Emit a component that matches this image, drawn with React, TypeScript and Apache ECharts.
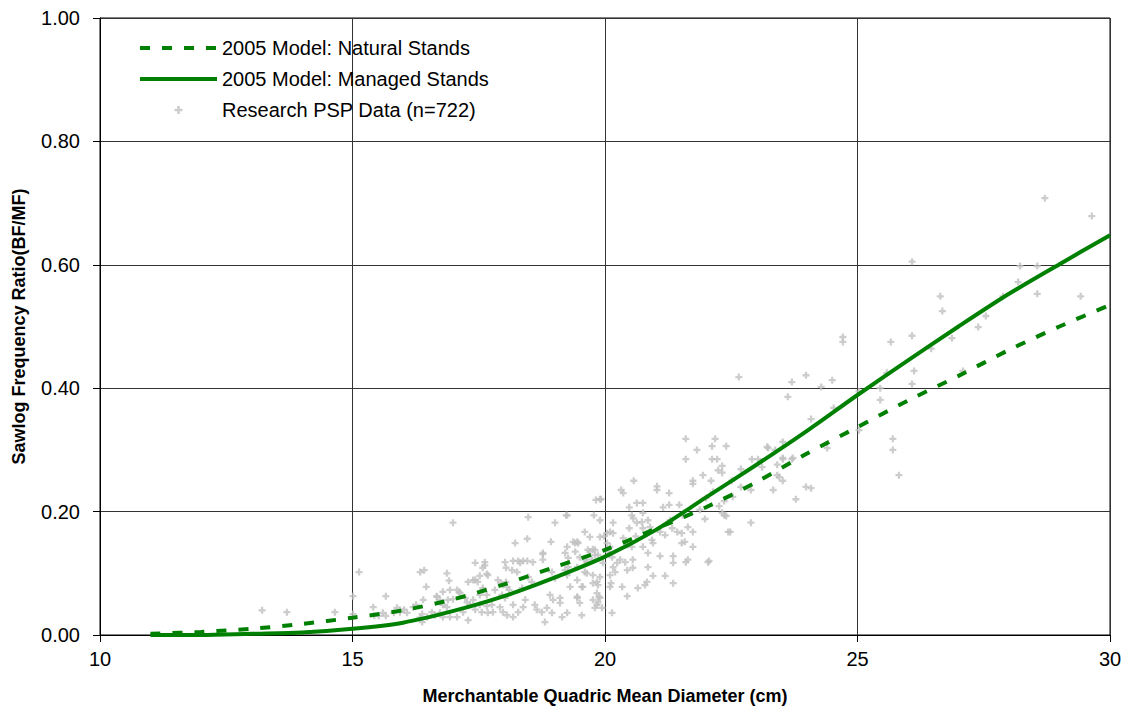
import React, { useEffect, useRef } from "react";
import * as echarts from "echarts";

const curveX = [11, 12, 13, 14, 15, 16, 17, 18, 19, 20, 21, 22, 23, 24, 25, 26, 27, 28, 29, 30];
const naturalStands = [0.002, 0.005, 0.010, 0.018, 0.028, 0.040, 0.058, 0.082, 0.110, 0.138, 0.172, 0.207, 0.248, 0.294, 0.337, 0.380, 0.420, 0.462, 0.500, 0.535];
const managedStands = [0.000, 0.000, 0.002, 0.004, 0.010, 0.020, 0.039, 0.063, 0.093, 0.127, 0.170, 0.223, 0.276, 0.331, 0.389, 0.445, 0.500, 0.553, 0.601, 0.648];

const pspData: [number, number][] = [
  [28.71, 0.708], [29.64, 0.679], [26.08, 0.605], [28.22, 0.598], [28.56, 0.598], [28.18, 0.572], [26.64, 0.549], [27.88, 0.549],
  [28.56, 0.553], [29.42, 0.549], [26.68, 0.525], [27.54, 0.517], [27.39, 0.499], [25.66, 0.475], [26.08, 0.485], [26.87, 0.481],
  [26.46, 0.464], [25.58, 0.425], [26.12, 0.428], [27.09, 0.428], [26.08, 0.407], [25.03, 0.395], [25.45, 0.400], [25.45, 0.381],
  [25.03, 0.332], [25.70, 0.318], [25.70, 0.300], [25.82, 0.259],
  [24.71, 0.483], [24.71, 0.475], [23.70, 0.410], [23.98, 0.421], [24.50, 0.413], [24.28, 0.402], [23.62, 0.386], [24.53, 0.368],
  [24.08, 0.350], [23.52, 0.313], [24.40, 0.303], [23.52, 0.287], [23.72, 0.287],
  [22.65, 0.418], [22.40, 0.306], [23.23, 0.303], [22.91, 0.285], [23.03, 0.285], [23.37, 0.300], [23.52, 0.285], [23.70, 0.285],
  [22.32, 0.274], [22.32, 0.263], [23.11, 0.272], [22.69, 0.269], [23.41, 0.276], [23.41, 0.259], [22.51, 0.250], [23.52, 0.250],
  [22.69, 0.240], [22.89, 0.235], [22.53, 0.224], [23.33, 0.235], [23.98, 0.240], [24.08, 0.238], [23.78, 0.220], [22.36, 0.217],
  [22.32, 0.198], [22.40, 0.193], [22.89, 0.182], [22.48, 0.167],
  [21.60, 0.318], [22.18, 0.318], [22.12, 0.306], [21.82, 0.300], [21.60, 0.285], [22.12, 0.285], [22.22, 0.285], [22.24, 0.267],
  [21.94, 0.259], [20.57, 0.250], [21.74, 0.250], [21.74, 0.245], [22.10, 0.250], [21.03, 0.241], [21.03, 0.235], [20.32, 0.235],
  [20.36, 0.230], [21.27, 0.230], [19.90, 0.220], [22.00, 0.222], [22.14, 0.232], [20.63, 0.214], [20.75, 0.214], [20.48, 0.207],
  [21.15, 0.207], [21.27, 0.211], [21.47, 0.211], [20.75, 0.198], [20.53, 0.194], [20.56, 0.189], [21.54, 0.194], [21.88, 0.203],
  [21.98, 0.188], [22.26, 0.209], [22.36, 0.194], [20.63, 0.182], [20.73, 0.183], [20.85, 0.186], [20.16, 0.182], [19.90, 0.186],
  [20.75, 0.173], [20.89, 0.175], [20.48, 0.173], [21.29, 0.186], [21.33, 0.173], [21.64, 0.175], [21.74, 0.167], [22.44, 0.167],
  [20.10, 0.167], [20.16, 0.165], [21.09, 0.167], [21.19, 0.162], [21.43, 0.167], [21.52, 0.165], [19.98, 0.160], [20.61, 0.160],
  [20.36, 0.157], [20.93, 0.154], [21.58, 0.151], [21.52, 0.149], [20.44, 0.146], [20.53, 0.143], [20.75, 0.143], [20.95, 0.149],
  [21.74, 0.143], [20.04, 0.149], [20.10, 0.143], [20.85, 0.133], [21.09, 0.128], [21.35, 0.128], [21.35, 0.117], [21.60, 0.118],
  [22.04, 0.118], [20.30, 0.122], [20.40, 0.118], [20.55, 0.122], [20.14, 0.126], [20.24, 0.117], [19.96, 0.117], [19.90, 0.094],
  [20.16, 0.110], [20.20, 0.102], [20.44, 0.105], [20.55, 0.109], [20.85, 0.110], [20.10, 0.097], [20.95, 0.096], [21.19, 0.096],
  [20.83, 0.086], [20.79, 0.081], [20.12, 0.084], [20.10, 0.078], [20.34, 0.078], [20.65, 0.076], [21.35, 0.084], [20.44, 0.063],
  [19.90, 0.060], [19.94, 0.044], [20.14, 0.036],
  [23.21, 0.305], [23.45, 0.256], [22.06, 0.120], [21.64, 0.122],
  [19.23, 0.194], [19.92, 0.220], [19.41, 0.149], [19.47, 0.149], [19.41, 0.135], [19.70, 0.135], [19.25, 0.143], [19.50, 0.126],
  [19.64, 0.118], [19.74, 0.122], [19.80, 0.130], [19.45, 0.110], [19.27, 0.110], [19.64, 0.100], [19.76, 0.084], [19.84, 0.086],
  [19.86, 0.081], [19.54, 0.078], [19.31, 0.078], [19.45, 0.062], [19.84, 0.068], [19.88, 0.062],
  [18.48, 0.191], [19.01, 0.182], [19.25, 0.194], [19.78, 0.194], [19.82, 0.219], [18.22, 0.149], [18.46, 0.156], [18.93, 0.151],
  [19.37, 0.151], [19.45, 0.151], [19.60, 0.167], [19.70, 0.159], [18.77, 0.133], [19.66, 0.138], [19.76, 0.139], [17.43, 0.117],
  [17.62, 0.118], [18.02, 0.118], [18.18, 0.120], [18.32, 0.117], [18.46, 0.120], [18.57, 0.118], [18.77, 0.122], [19.21, 0.133],
  [19.27, 0.125], [19.60, 0.122], [17.58, 0.109], [17.68, 0.097], [18.04, 0.109], [18.16, 0.105], [18.26, 0.102], [17.88, 0.089],
  [17.98, 0.081], [17.43, 0.089], [18.48, 0.094], [18.55, 0.086], [18.95, 0.102], [19.01, 0.092], [19.21, 0.105], [19.25, 0.097],
  [19.60, 0.102], [19.76, 0.097], [19.45, 0.089], [19.56, 0.078], [17.58, 0.073], [17.52, 0.065], [17.66, 0.065], [17.82, 0.073],
  [18.06, 0.078], [18.10, 0.073], [18.36, 0.076], [18.42, 0.057], [17.96, 0.065], [18.02, 0.060], [18.91, 0.065], [18.97, 0.057],
  [19.11, 0.060], [19.11, 0.052], [19.45, 0.060], [19.50, 0.052], [19.76, 0.057], [19.84, 0.049], [17.39, 0.057], [17.33, 0.049],
  [17.52, 0.049], [17.66, 0.047], [17.76, 0.049], [17.43, 0.041], [17.56, 0.037], [17.68, 0.036], [17.78, 0.037], [17.92, 0.045],
  [17.98, 0.037], [18.18, 0.049], [18.28, 0.037], [18.38, 0.045], [18.61, 0.049], [18.65, 0.041], [18.75, 0.037], [18.85, 0.044],
  [18.95, 0.036], [19.15, 0.029], [19.25, 0.036], [19.54, 0.032], [19.80, 0.044], [19.86, 0.053], [18.81, 0.021], [18.06, 0.032],
  [18.18, 0.029],
  [16.99, 0.182], [15.13, 0.102], [16.34, 0.102], [16.42, 0.105], [16.87, 0.100], [16.91, 0.088], [16.46, 0.078], [15.01, 0.063],
  [15.66, 0.063], [16.79, 0.070], [16.93, 0.073], [16.67, 0.063], [17.11, 0.070], [16.99, 0.058], [16.89, 0.057], [17.23, 0.060],
  [17.27, 0.053], [15.41, 0.045], [16.26, 0.049], [16.20, 0.045], [16.79, 0.049], [16.87, 0.045], [15.01, 0.034], [15.43, 0.031],
  [15.52, 0.031], [15.60, 0.036], [15.66, 0.031], [15.82, 0.036], [15.94, 0.037], [16.02, 0.041], [16.08, 0.036], [16.38, 0.034],
  [16.34, 0.028], [16.57, 0.037], [16.63, 0.032], [16.73, 0.036], [16.79, 0.029], [16.93, 0.029], [17.07, 0.029], [16.48, 0.029],
  [16.38, 0.021], [17.19, 0.037], [17.29, 0.024],
  [13.21, 0.040], [13.70, 0.037], [14.65, 0.037],
  [19.90, 0.159], [20.04, 0.165], [18.28, 0.120], [18.38, 0.120], [18.77, 0.131], [19.80, 0.138], [19.86, 0.130], [20.06, 0.135],
  [17.29, 0.086], [17.39, 0.089], [17.52, 0.096], [17.66, 0.099], [17.62, 0.113], [17.07, 0.073], [17.13, 0.068], [16.67, 0.062],
  [16.73, 0.057], [16.40, 0.057], [15.88, 0.044], [15.94, 0.041], [17.48, 0.086], [17.58, 0.076], [17.94, 0.084], [18.04, 0.086],
];

const NATURAL = "2005 Model: Natural Stands";
const MANAGED = "2005 Model: Managed Stands";
const PSP = "Research PSP Data (n=722)";
const FONT = "'Liberation Sans', Arial, sans-serif";
const PLUS = "path://M2.7 0H5.3V2.7H8V5.3H5.3V8H2.7V5.3H0V2.7H2.7Z";
const GREEN = "#008000";

export default function App() {
  const ref = useRef<HTMLDivElement>(null);
  useEffect(() => {
    const chart = echarts.init(ref.current!, null, { renderer: "svg" });
    chart.setOption({
      animation: false,
      backgroundColor: "#fff",
      textStyle: { fontFamily: FONT },
      grid: { left: 100, right: 17, top: 18, bottom: 76, show: true, borderColor: "#000", borderWidth: 1 },
      legend: {
        orient: "vertical",
        left: 133,
        top: 33,
        itemWidth: 77,
        itemHeight: 8,
        itemGap: 11,
        textStyle: { fontSize: 20, color: "#000", fontFamily: FONT },
        data: [
          { name: NATURAL, itemStyle: { opacity: 0 }, lineStyle: { width: 4, type: [10, 12], cap: "butt" } },
          { name: MANAGED, itemStyle: { opacity: 0 }, lineStyle: { width: 4 } },
          { name: PSP, icon: PLUS },
        ],
      },
      xAxis: {
        type: "value",
        min: 10,
        max: 30,
        interval: 5,
        name: "Merchantable Quadric Mean Diameter (cm)",
        nameLocation: "middle",
        nameGap: 52,
        nameTextStyle: { fontSize: 18, fontWeight: "bold", color: "#000", fontFamily: FONT },
        axisLine: { show: true, lineStyle: { color: "#000", width: 1 } },
        axisTick: { show: true, length: 7, lineStyle: { color: "#000" } },
        axisLabel: { fontSize: 20, color: "#000", margin: 14, fontFamily: FONT },
        splitLine: { show: true, lineStyle: { color: "#333", width: 1 } },
      },
      yAxis: {
        type: "value",
        min: 0,
        max: 1,
        interval: 0.2,
        name: "Sawlog Frequency Ratio(BF/MF)",
        nameLocation: "middle",
        nameGap: 72,
        nameTextStyle: { fontSize: 18, fontWeight: "bold", color: "#000", fontFamily: FONT },
        axisLine: { show: true, lineStyle: { color: "#000", width: 1 } },
        axisTick: { show: true, length: 7, lineStyle: { color: "#000" } },
        axisLabel: { fontSize: 20, color: "#000", margin: 20, fontFamily: FONT, formatter: (v: number) => v.toFixed(2) },
        splitLine: { show: true, lineStyle: { color: "#333", width: 1 } },
      },
      series: [
        {
          name: PSP,
          type: "scatter",
          data: pspData,
          symbol: PLUS,
          symbolSize: 7,
          itemStyle: { color: "#c0c0c0" },
          z: 1,
        },
        {
          name: NATURAL,
          type: "line",
          data: curveX.map((x, i) => [x, naturalStands[i]]),
          symbol: "none",
          smooth: 0.3,
          lineStyle: { color: GREEN, width: 4, type: [10, 12], cap: "butt" },
          itemStyle: { color: GREEN },
          z: 3,
        },
        {
          name: MANAGED,
          type: "line",
          data: curveX.map((x, i) => [x, managedStands[i]]),
          symbol: "none",
          smooth: 0.3,
          lineStyle: { color: GREEN, width: 4 },
          itemStyle: { color: GREEN },
          z: 3,
        },
      ],
    });
    return () => chart.dispose();
  }, []);
  return <div ref={ref} style={{ position: "fixed", left: 0, top: 0, width: 1127, height: 711 }} />;
}
